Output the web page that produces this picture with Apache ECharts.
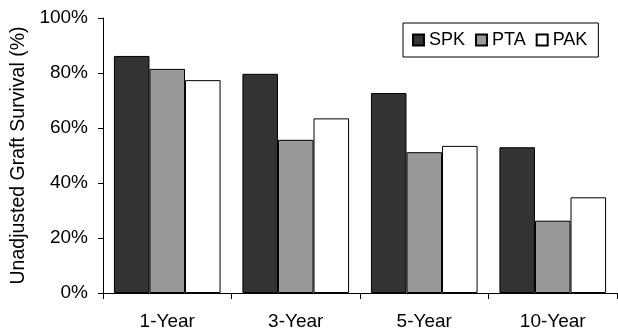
<!DOCTYPE html>
<html>
<head>
<meta charset="utf-8">
<script src="https://cdn.jsdelivr.net/npm/echarts@6/dist/echarts.min.js"></script>
<style>
  html, body { margin: 0; padding: 0; background: #fff; }
  #chart { width: 618px; height: 333px; }
</style>
</head>
<body>
<div id="chart"></div>
<script>
// Graft survival by follow-up period, per transplant type
const categories = ['1-Year', '3-Year', '5-Year', '10-Year'];
const spk = [86.2, 79.7, 72.7, 53.0];
const pta = [81.5, 55.7, 51.2, 26.3];
const pak = [77.4, 63.5, 53.5, 34.8];
const yTicks = [0, 20, 40, 60, 80, 100];

const font = 'Liberation Sans, Arial, Helvetica, sans-serif';
const barStyle = (color) => ({ color: color, borderColor: '#000', borderWidth: 1 });

const chart = echarts.init(document.getElementById('chart'), null, { renderer: 'canvas' });
chart.setOption({
  animation: false,
  backgroundColor: '#fff',
  textStyle: { fontFamily: font, color: '#000' },
  grid: { left: 103, right: 1, top: 18, bottom: 40, containLabel: false },
  legend: {
    left: 403, top: 23,
    orient: 'horizontal',
    padding: [8, 11, 8, 9],
    borderColor: '#000', borderWidth: 1,
    backgroundColor: '#fff',
    itemWidth: 11, itemHeight: 11, itemGap: 10,
    icon: 'rect',
    textStyle: { fontFamily: font, fontSize: 18, color: '#000' },
    data: ['SPK', 'PTA', 'PAK']
  },
  xAxis: {
    type: 'category',
    data: categories,
    boundaryGap: true,
    axisLine: { lineStyle: { color: '#000', width: 1 } },
    axisTick: { show: true, length: 6, lineStyle: { color: '#000' } },
    axisLabel: { fontFamily: font, fontSize: 19, color: '#000', margin: 19 },
    splitLine: { show: false }
  },
  yAxis: {
    type: 'value',
    min: yTicks[0], max: yTicks[yTicks.length - 1], interval: 20,
    name: 'Unadjusted Graft Survival (%)',
    nameLocation: 'middle', nameGap: 67, nameRotate: 90,
    nameTextStyle: { fontFamily: font, fontSize: 19.5, color: '#000' },
    axisLine: { show: true, lineStyle: { color: '#000', width: 1 } },
    axisTick: { show: true, length: 5, lineStyle: { color: '#000' } },
    axisLabel: { fontFamily: font, fontSize: 19, color: '#000', margin: 15, formatter: '{value}%' },
    splitLine: { show: false }
  },
  series: [
    { name: 'SPK', type: 'bar', data: spk, barGap: '0%', barCategoryGap: '17%', itemStyle: barStyle('#333333') },
    { name: 'PTA', type: 'bar', data: pta, barGap: '0%', barCategoryGap: '17%', itemStyle: barStyle('#999999') },
    { name: 'PAK', type: 'bar', data: pak, barGap: '0%', barCategoryGap: '17%', itemStyle: barStyle('#ffffff') }
  ]
});
</script>
</body>
</html>
